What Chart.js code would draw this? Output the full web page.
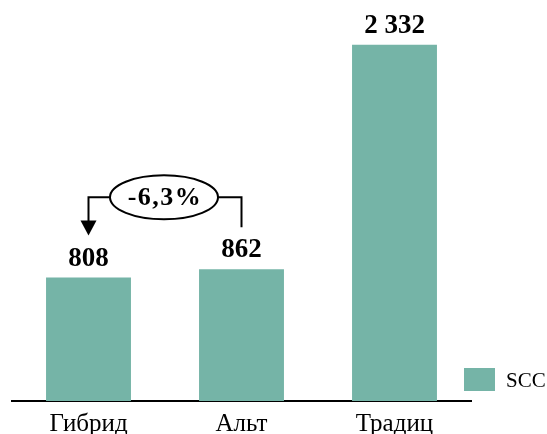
<!DOCTYPE html>
<html>
<head>
<meta charset="utf-8">
<script src="https://cdn.jsdelivr.net/npm/chart.js@4/dist/chart.umd.min.js"></script>
<style>
  html, body { margin: 0; padding: 0; background: #fff; }
  #wrap { width: 547px; height: 434px; }
</style>
</head>
<body>
<div id="wrap"><canvas id="chart"></canvas></div>
<script>
// data
const categories = ["Гибрид", "Альт", "Традиц"];
const seriesName = "SCC";
const values = [808, 862, 2332];
const barColor = "#75b4a7";
const serif = "'Liberation Serif', 'Times New Roman', serif";

const fmt = v => String(v).replace(/\B(?=(\d{3})+(?!\d))/g, " ");

// value labels above the bars
const valueLabels = {
    id: "valueLabels",
    afterDatasetsDraw(chart) {
        const { ctx } = chart;
        const meta = chart.getDatasetMeta(0);
        ctx.save();
        ctx.font = "bold 27px " + serif;
        ctx.fillStyle = "#000";
        ctx.textAlign = "center";
        ctx.textBaseline = "alphabetic";
        meta.data.forEach((bar, i) => {
            ctx.fillText(fmt(values[i]), bar.x, bar.y - 12);
        });
        ctx.restore();
    }
};

// bracket arrow Альт -> Гибрид with percent change in an ellipse
const changeArrow = {
    id: "changeArrow",
    afterDatasetsDraw(chart) {
        const { ctx } = chart;
        const meta = chart.getDatasetMeta(0);
        const a = meta.data[0], b = meta.data[1];
        const pct = (values[0] - values[1]) / values[1] * 100;
        const txt = pct.toFixed(1).replace(".", ",") + "%";
        const tipY = a.y - 42;
        const endY = b.y - 42;
        const lineY = Math.min(a.y, b.y) - 72;
        const cx = a.x + (b.x - a.x) * 0.5 - 1;
        const rx = 54, ry = 22;
        ctx.save();
        ctx.strokeStyle = "#000";
        ctx.fillStyle = "#000";
        ctx.lineWidth = 2;
        ctx.beginPath();
        ctx.moveTo(cx - rx, lineY);
        ctx.lineTo(a.x, lineY);
        ctx.lineTo(a.x, tipY - 14);
        ctx.moveTo(cx + rx, lineY);
        ctx.lineTo(b.x, lineY);
        ctx.lineTo(b.x, endY);
        ctx.stroke();
        // arrow head
        ctx.beginPath();
        ctx.moveTo(a.x - 8, tipY - 15);
        ctx.lineTo(a.x + 8, tipY - 15);
        ctx.lineTo(a.x, tipY);
        ctx.closePath();
        ctx.fill();
        // ellipse
        ctx.beginPath();
        ctx.ellipse(cx, lineY, rx, ry, 0, 0, Math.PI * 2);
        ctx.fillStyle = "#fff";
        ctx.fill();
        ctx.stroke();
        ctx.fillStyle = "#000";
        ctx.font = "bold 26px " + serif;
        ctx.letterSpacing = "1.5px";
        ctx.textAlign = "center";
        ctx.textBaseline = "alphabetic";
        ctx.fillText(txt, cx + 1, lineY + 8);
        ctx.restore();
    }
};

// legend swatch at bottom right
const sideLegend = {
    id: "sideLegend",
    afterDraw(chart) {
        const { ctx, chartArea } = chart;
        const ds = chart.data.datasets[0];
        const x = chartArea.right - 7, y = chartArea.bottom - 33;
        ctx.save();
        ctx.fillStyle = ds.backgroundColor;
        ctx.fillRect(x, y, 31, 23);
        ctx.fillStyle = "#000";
        ctx.font = "21px " + serif;
        ctx.textBaseline = "alphabetic";
        ctx.fillText(ds.label, x + 42, y + 19);
        ctx.restore();
    }
};

new Chart(document.getElementById("chart"), {
    type: "bar",
    data: {
        labels: categories,
        datasets: [{
            label: seriesName,
            data: values,
            backgroundColor: barColor,
            categoryPercentage: 1,
            barPercentage: 0.555
        }]
    },
    options: {
        responsive: true,
        maintainAspectRatio: false,
        animation: false,
        // negative bottom padding lets the tick labels run to the edge like the reference
        layout: { padding: { left: 12, right: 76, top: 0, bottom: -13 } },
        plugins: {
            legend: { display: false },
            tooltip: { enabled: false }
        },
        scales: {
            x: {
                grid: { display: false, drawTicks: false },
                border: { display: true, color: "#000", width: 2 },
                ticks: { color: "#000", font: { family: serif, size: 25 }, padding: 8 }
            },
            y: {
                display: false,
                min: 0,
                max: 2625
            }
        }
    },
    plugins: [valueLabels, changeArrow, sideLegend]
});
</script>
</body>
</html>
